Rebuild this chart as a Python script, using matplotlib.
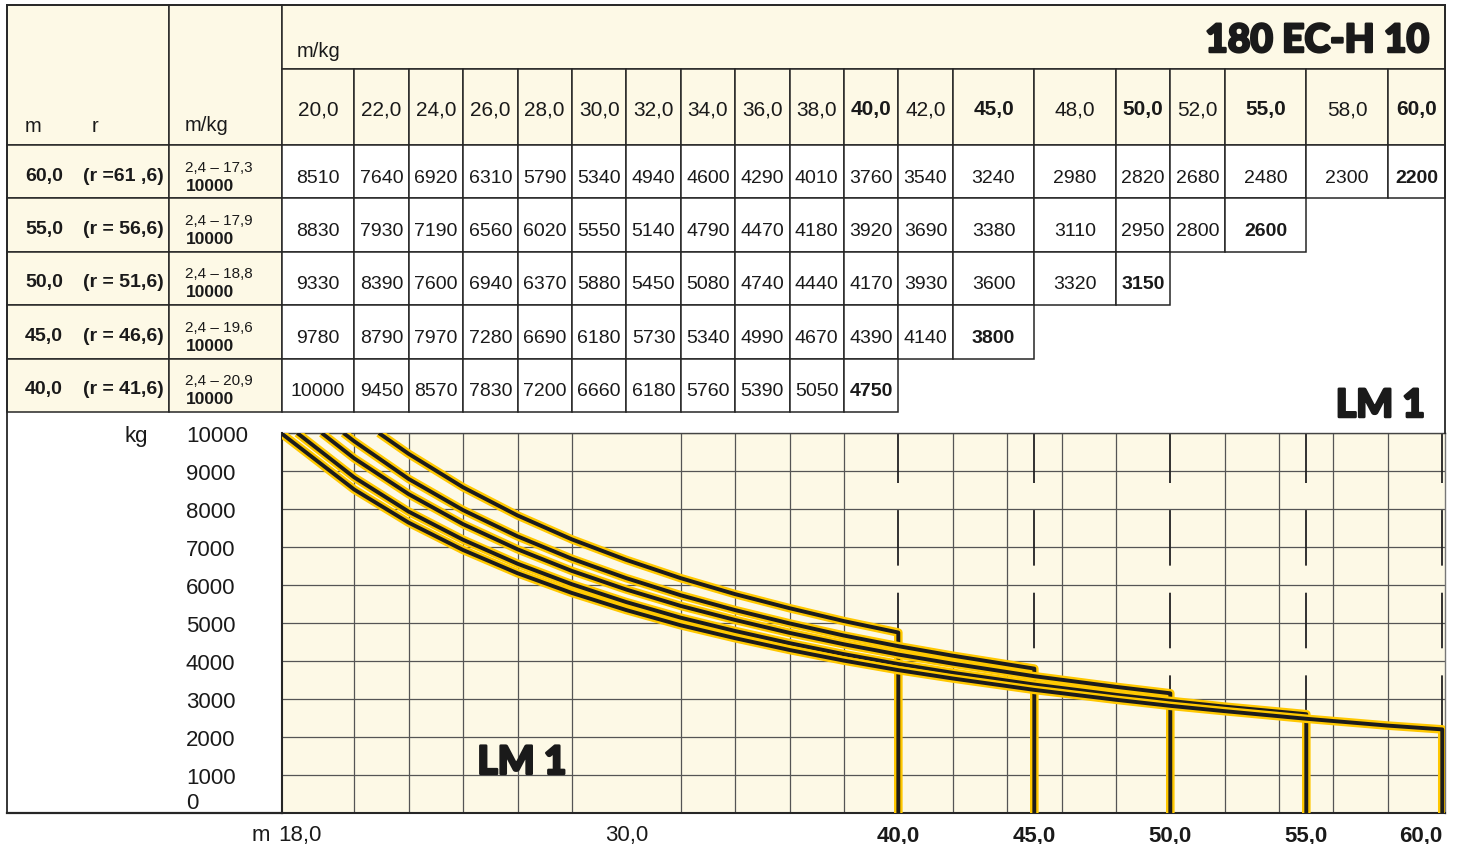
import matplotlib
matplotlib.use('Agg')
import matplotlib.pyplot as plt
import matplotlib.patheffects as pe
from matplotlib import font_manager
from matplotlib.transforms import Affine2D, blended_transform_factory
from matplotlib.patches import Rectangle
from matplotlib.lines import Line2D
import numpy as np

# ---------------- data ----------------
radii = [20.0, 22.0, 24.0, 26.0, 28.0, 30.0, 32.0, 34.0, 36.0, 38.0, 40.0, 42.0,
         45.0, 48.0, 50.0, 52.0, 55.0, 58.0, 60.0]
radius_labels = ["20,0", "22,0", "24,0", "26,0", "28,0", "30,0", "32,0", "34,0", "36,0",
                 "38,0", "40,0", "42,0", "45,0", "48,0", "50,0", "52,0", "55,0", "58,0", "60,0"]
bold_radii = [40.0, 45.0, 50.0, 55.0, 60.0]

jibs = [60.0, 55.0, 50.0, 45.0, 40.0]
jib_labels = ["60,0", "55,0", "50,0", "45,0", "40,0"]
r_labels = ["(r =61 ,6)", "(r = 56,6)", "(r = 51,6)", "(r = 46,6)", "(r = 41,6)"]
range_labels = ["2,4 – 17,3", "2,4 – 17,9", "2,4 – 18,8", "2,4 – 19,6", "2,4 – 20,9"]
max_load_radius = [17.3, 17.9, 18.8, 19.6, 20.9]
max_load = 10000

loads_60 = [8510, 7640, 6920, 6310, 5790, 5340, 4940, 4600, 4290, 4010, 3760, 3540,
            3240, 2980, 2820, 2680, 2480, 2300, 2200]
loads_55 = [8830, 7930, 7190, 6560, 6020, 5550, 5140, 4790, 4470, 4180, 3920, 3690,
            3380, 3110, 2950, 2800, 2600]
loads_50 = [9330, 8390, 7600, 6940, 6370, 5880, 5450, 5080, 4740, 4440, 4170, 3930,
            3600, 3320, 3150]
loads_45 = [9780, 8790, 7970, 7280, 6690, 6180, 5730, 5340, 4990, 4670, 4390, 4140, 3800]
loads_40 = [10000, 9450, 8570, 7830, 7200, 6660, 6180, 5760, 5390, 5050, 4750]
load_rows = [loads_60, loads_55, loads_50, loads_45, loads_40]

x_ticks = [18.0, 30.0, 40.0, 45.0, 50.0, 55.0, 60.0]
x_tick_labels = ["18,0", "30,0", "40,0", "45,0", "50,0", "55,0", "60,0"]
y_ticks = [0, 1000, 2000, 3000, 4000, 5000, 6000, 7000, 8000, 9000, 10000]
y_tick_labels = ["0", "1000", "2000", "3000", "4000", "5000", "6000", "7000", "8000", "9000", "10000"]

title = "180 EC-H 10"
mode_label = "LM 1"

# ---------------- fonts ----------------
avail = {f.name for f in font_manager.fontManager.ttflist}
REG = 'Liberation Sans' if 'Liberation Sans' in avail else 'DejaVu Sans'
NAR = 'Liberation Sans Narrow' if 'Liberation Sans Narrow' in avail else REG
HAVE_NAR = NAR != REG


def pick_heavy():
    for name in ['Lato', 'Inter', 'Roboto', 'Open Sans', 'Noto Sans']:
        for f in font_manager.fontManager.ttflist:
            if f.name == name:
                w = f.weight
                if isinstance(w, str):
                    w = font_manager.weight_dict.get(w, 400)
                if w >= 800:
                    return name, w
    return 'DejaVu Sans', 'bold'


HEAVY, HEAVY_W = pick_heavy()
HEAVY_FX = [pe.withStroke(linewidth=1.8, foreground='#1a1a1a')]

VAL_FS = 16 if HAVE_NAR else 14
RNG_FS = 12.5 if HAVE_NAR else 11
MAX_FS = 14.5 if HAVE_NAR else 12.5

# ---------------- figure ----------------
W, H = 1458, 845
fig = plt.figure(figsize=(W / 100, H / 100), dpi=100)
fig.patch.set_facecolor('white')

CREAM = '#FDF9E6'
LINE = '#262626'
GRID = '#555555'
YEL = '#FFC800'
BLK = '#1c1c1c'

XMIN, XMAX = 17.34, 60.1
ax = fig.add_axes([282 / W, 1 - 814 / H, (1445 - 282) / W, (814 - 434) / H])
ax.set_xlim(XMIN, XMAX)
ax.set_ylim(0, 10000)
ax.set_facecolor(CREAM)

pix = Affine2D().scale(1 / W, -1 / H).translate(0, 1) + fig.transFigure
bt = blended_transform_factory(ax.transData, pix)


def cell(x0, x1, y0, y1, trans, fc, lw=1.1):
    fig.add_artist(Rectangle((x0, y0), x1 - x0, y1 - y0, transform=trans,
                             facecolor=fc, edgecolor=LINE, linewidth=lw, zorder=2))


def txt(x, y, s, trans, **kw):
    kw.setdefault('family', REG)
    kw.setdefault('color', '#1a1a1a')
    fig.text(x, y, s, transform=trans, zorder=3, **kw)


# column edges in data coordinates
lefts = [XMIN] + radii[:-1]
rights = radii[:-1] + [XMAX]

HDR1_TOP, HDR1_BOT, HDR2_BOT = 6, 70, 146
ROW_H = (413 - 146) / 5

# header: left two columns
cell(7, 169, HDR1_TOP, HDR2_BOT, pix, CREAM)
cell(169, 282, HDR1_TOP, HDR2_BOT, pix, CREAM)
txt(25, 132, "m", pix, fontsize=14.5, ha='left', va='baseline')
txt(92, 132, "r", pix, fontsize=14.5, ha='left', va='baseline')
txt(185, 131, "m/kg", pix, fontsize=14.5, ha='left', va='baseline')

# header row 1 (radii area)
cell(XMIN, XMAX, HDR1_TOP, HDR1_BOT, bt, CREAM)
txt(297, 57, "m/kg", pix, fontsize=14.5, ha='left', va='baseline')
txt(1429, 53, title, pix, family=HEAVY, fontweight=HEAVY_W, fontsize=28,
    ha='right', va='baseline', path_effects=HEAVY_FX)

# header row 2: radii
for x0, x1, r, lab in zip(lefts, rights, radii, radius_labels):
    cell(x0, x1, HDR1_BOT, HDR2_BOT, bt, CREAM)
    txt((x0 + x1) / 2, 115, lab, bt, fontsize=15, ha='center', va='baseline',
        fontweight='bold' if r in bold_radii else 'normal')

# data rows
for i, (jl, rl, rg, loads) in enumerate(zip(jib_labels, r_labels, range_labels, load_rows)):
    y0 = HDR2_BOT + i * ROW_H
    y1 = y0 + ROW_H
    yc = (y0 + y1) / 2
    cell(7, 169, y0, y1, pix, CREAM)
    cell(169, 282, y0, y1, pix, CREAM)
    txt(25, yc + 8, jl, pix, fontsize=14, fontweight='bold', ha='left', va='baseline')
    txt(83, yc + 8, rl, pix, fontsize=14, fontweight='bold', ha='left', va='baseline')
    txt(185, yc - 1, rg, pix, family=NAR, fontsize=RNG_FS, ha='left', va='baseline')
    txt(186, yc + 18, f"{max_load}", pix, family=NAR, fontsize=MAX_FS,
        fontweight='bold', ha='left', va='baseline')
    for j, val in enumerate(loads):
        x0, x1 = lefts[j], rights[j]
        cell(x0, x1, y0, y1, bt, 'white')
        txt((x0 + x1) / 2, yc + 10, f"{val}", bt, family=NAR, fontsize=VAL_FS,
            ha='center', va='baseline',
            fontweight='bold' if j == len(loads) - 1 else 'normal')

# outer frame lines
fig.add_artist(Line2D([7, 7], [6, 814], transform=pix, color=LINE, lw=1.3, zorder=4))
fig.add_artist(Line2D([7, 1445], [6, 6], transform=pix, color=LINE, lw=1.3, zorder=4))
fig.add_artist(Line2D([XMAX, XMAX], [6, 434], transform=bt, color=LINE, lw=1.3, zorder=4))
fig.add_artist(Line2D([7, 282], [814, 814], transform=pix, color=LINE, lw=1.6, zorder=4))

# LM 1 label top right
txt(1425, 418, mode_label, pix, family=HEAVY, fontweight=HEAVY_W, fontsize=28,
    ha='right', va='baseline', path_effects=HEAVY_FX)

# ---------------- chart ----------------
plt.rcParams['lines.scale_dashes'] = False
ax.set_xticks(x_ticks)
ax.set_xticklabels(x_tick_labels, family=REG, fontsize=16)
ax.set_xticks(np.arange(18, 59, 2), minor=True)
ax.set_yticks(y_ticks)
ax.set_yticklabels(y_tick_labels, family=REG, fontsize=16)
ax.tick_params(axis='both', which='both', length=0)
ax.tick_params(axis='x', pad=8, colors='#1a1a1a')
ax.tick_params(axis='y', pad=96 * 0.72, colors='#1a1a1a')
for lab, v in zip(ax.get_xticklabels(), x_ticks):
    if v in bold_radii:
        lab.set_fontweight('bold')
    if v == x_ticks[-1]:
        lab.set_ha('right')
for lab in ax.get_yticklabels():
    lab.set_ha('left')
ax.get_yticklabels()[0].set_va('bottom')

ax.grid(which='minor', axis='x', color=GRID, lw=0.9, zorder=0)
ax.grid(which='major', axis='y', color=GRID, lw=0.9, zorder=0)
ax.set_axisbelow(True)

for s in ['left', 'bottom']:
    ax.spines[s].set_color(LINE)
    ax.spines[s].set_linewidth(1.5)
ax.spines['top'].set_color('#444444')
ax.spines['top'].set_linewidth(1.0)
ax.spines['right'].set_color('#777777')
ax.spines['right'].set_linewidth(1.0)

txt(148, 437, "kg", pix, fontsize=16, ha='right', va='center')
txt(270, 836, "m", pix, fontsize=16, ha='right', va='center')
ax.text(0.168, 0.103, mode_label, transform=ax.transAxes, family=HEAVY,
        fontweight=HEAVY_W, fontsize=28, ha='left', va='baseline', color='#1a1a1a',
        zorder=6, path_effects=HEAVY_FX)

# dashed jib-length markers and load curves (40 m first, 60 m on top)
order = list(range(len(jibs)))[::-1]
for k in order:
    jib, loads = jibs[k], load_rows[k]
    ax.plot([jib, jib], [max_load, loads[-1]], color='#222222', lw=1.3,
            linestyle=(4, (40, 19.5)), zorder=2)

for k in order:
    jib, loads, r0 = jibs[k], load_rows[k], max_load_radius[k]
    xs = [r0] + [r for r, v in zip(radii, loads) if r > r0]
    ys = [max_load] + [v for r, v in zip(radii, loads) if r > r0]
    xs.append(jib)
    ys.append(0)
    ax.plot(xs, ys, color=BLK, lw=2.8, solid_joinstyle='round', solid_capstyle='butt',
            zorder=3,
            path_effects=[pe.Stroke(linewidth=6.2, foreground=YEL), pe.Normal()])

fig.savefig('out.png', dpi=100, facecolor='white')
